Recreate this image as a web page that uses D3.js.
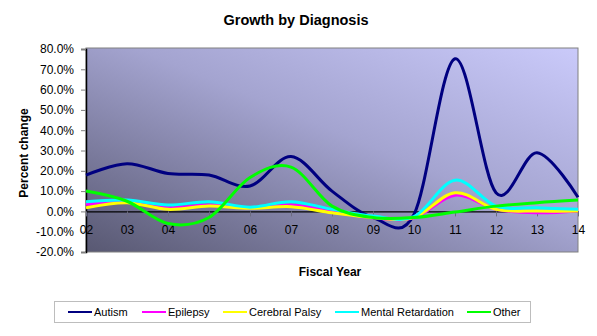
<!DOCTYPE html>
<html>
<head>
<meta charset="utf-8">
<script src="https://cdn.jsdelivr.net/npm/d3@7"></script>
<style>
  body { margin: 0; background: #fff; }
  svg { display: block; font-family: "Liberation Sans", Arial, sans-serif; }
</style>
</head>
<body>
<svg id="chart" width="597" height="336"></svg>
<script>
'use strict';

// fiscal years and percent change per diagnosis
const years = ['02', '03', '04', '05', '06', '07', '08', '09', '10', '11', '12', '13', '14'];
const autism = [17.9, 23.5, 18.7, 17.9, 12.5, 27.0, 10.0, -3.0, -1.5, 75.2, 9.2, 28.9, 7.0];
const epilepsy = [3.4, 4.8, 1.8, 3.1, 1.8, 3.1, 0.2, -3.1, -3.1, 8.0, 1.0, -0.7, 0.2];
const cerebralPalsy = [1.8, 4.3, 1.0, 2.6, 1.5, 2.3, -0.7, -3.0, -3.0, 9.2, 1.0, 0.2, 0.2];
const mentalRetardation = [4.8, 5.6, 3.1, 4.8, 2.1, 4.8, 1.0, -2.3, -2.6, 15.4, 2.6, 1.8, 1.0];
const other = [10.0, 5.0, -6.0, -3.0, 16.7, 21.8, 2.6, -3.0, -3.0, -0.3, 2.6, 4.3, 5.6];
const yTicks = [-20, -10, 0, 10, 20, 30, 40, 50, 60, 70, 80];

const series = [
    { name: 'Autism', values: autism, colour: '#000080' },
    { name: 'Epilepsy', values: epilepsy, colour: '#ff00ff' },
    { name: 'Cerebral Palsy', values: cerebralPalsy, colour: '#ffff00' },
    { name: 'Mental Retardation', values: mentalRetardation, colour: '#00ffff' },
    { name: 'Other', values: other, colour: '#00ff00' }
];

const svg = d3.select('#chart');
const plot = { left: 86, right: 578, top: 49, bottom: 252 };

const x = d3.scalePoint().domain(years).range([plot.left, plot.right]).padding(0);
const y = d3.scaleLinear().domain([-20, 80]).range([plot.bottom, plot.top]);

// plot area background: dark slate bottom-left fading to lavender top-right
const defs = svg.append('defs');
const grad = defs.append('linearGradient')
    .attr('id', 'bg')
    .attr('x1', '0%').attr('y1', '100%')
    .attr('x2', '100%').attr('y2', '0%');
grad.append('stop').attr('offset', '0%').attr('stop-color', '#585872');
grad.append('stop').attr('offset', '55%').attr('stop-color', '#a4a4d0');
grad.append('stop').attr('offset', '100%').attr('stop-color', '#cacafa');

svg.append('rect')
    .attr('x', plot.left).attr('y', plot.top - 1)
    .attr('width', plot.right - plot.left).attr('height', plot.bottom - plot.top + 1)
    .attr('fill', 'url(#bg)')
    .attr('stroke', '#808080')
    .attr('stroke-width', 1);

// y axis
const yAxis = svg.append('g')
    .attr('transform', `translate(${plot.left},0)`)
    .call(d3.axisLeft(y).tickValues(yTicks).tickSize(5).tickPadding(7)
        .tickFormat(d => d.toFixed(1) + '%'));
yAxis.select('.domain').attr('stroke', '#000').attr('stroke-width', 1.5);
yAxis.selectAll('.tick line').attr('stroke', '#808080');
yAxis.selectAll('text').attr('font-size', 12).attr('fill', '#000')
    .attr('font-family', '"Liberation Sans", Arial, sans-serif');

// category axis crosses at zero
const xAxis = svg.append('g')
    .attr('transform', `translate(0,${y(0)})`)
    .call(d3.axisBottom(x).tickSize(5).tickSizeOuter(0).tickPadding(9));
xAxis.select('.domain').attr('stroke', '#000').attr('stroke-width', 1.2);
xAxis.selectAll('.tick line').attr('stroke', '#6c6c80');
xAxis.selectAll('text').attr('font-size', 12).attr('fill', '#000')
    .attr('font-family', '"Liberation Sans", Arial, sans-serif');

const line = d3.line()
    .x((d, i) => x(years[i]))
    .y(d => y(d))
    .curve(d3.curveCardinal.tension(0));

svg.append('g')
    .selectAll('path')
    .data(series)
    .enter()
    .append('path')
    .attr('d', d => line(d.values))
    .attr('fill', 'none')
    .attr('stroke', d => d.colour)
    .attr('stroke-width', 3)
    .attr('stroke-linejoin', 'round');

// titles
svg.append('text')
    .attr('x', 296).attr('y', 25)
    .attr('text-anchor', 'middle')
    .attr('font-size', 14.5).attr('font-weight', 'bold')
    .text('Growth by Diagnosis');

svg.append('text')
    .attr('transform', `translate(28,153) rotate(-90)`)
    .attr('text-anchor', 'middle')
    .attr('font-size', 12).attr('font-weight', 'bold')
    .text('Percent change');

svg.append('text')
    .attr('x', 330).attr('y', 276)
    .attr('text-anchor', 'middle')
    .attr('font-size', 12).attr('font-weight', 'bold')
    .text('Fiscal Year');

// legend
svg.append('rect')
    .attr('x', 54.5).attr('y', 301.5)
    .attr('width', 476).attr('height', 21)
    .attr('fill', '#fff')
    .attr('stroke', '#bdbdbd');

const legendX = [68, 142, 223, 335, 467];
const legend = svg.append('g')
    .selectAll('g')
    .data(series)
    .enter()
    .append('g')
    .attr('transform', (d, i) => `translate(${legendX[i]},312)`);
legend.append('line')
    .attr('x1', 0).attr('x2', 24)
    .attr('stroke', d => d.colour)
    .attr('stroke-width', 2);
legend.append('text')
    .attr('x', 26).attr('y', 4)
    .attr('font-size', 11)
    .text(d => d.name);
</script>
</body>
</html>
